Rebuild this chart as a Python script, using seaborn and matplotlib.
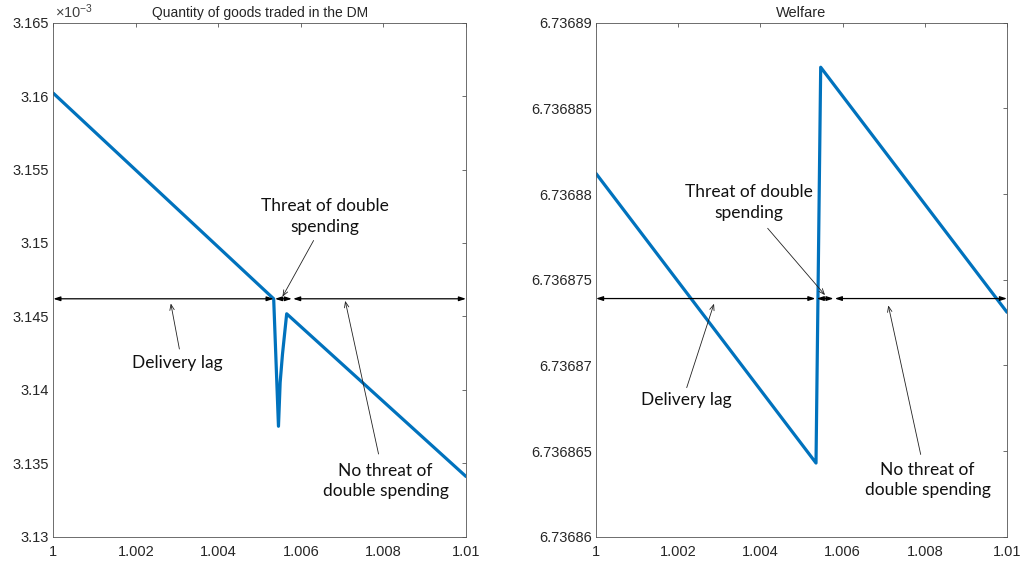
import numpy as np
import pandas as pd
import matplotlib
matplotlib.use("Agg")
import matplotlib.pyplot as plt
import seaborn as sns
from matplotlib.ticker import FuncFormatter

# left panel: quantity of goods traded in the DM (values in units of 1e-3)
q_x = [1.0, 1.00534, 1.005456, 1.005497, 1.005553, 1.005655, 1.01]
q_y = [3.1602, 3.1462, 3.13752, 3.14051, 3.14242, 3.14518, 3.1341]

# right panel: welfare
w_x = [1.0, 1.005353, 1.005467, 1.01]
w_y = [6.7368812, 6.7368643, 6.7368874, 6.7368731]

# double-arrow segments: delivery lag / threat of double spending / no threat
seg_edges = [(1.0, 1.00534), (1.00537, 1.00578), (1.00581, 1.01)]
q_arrow_y = 3.1462
w_arrow_y = 6.7368739

q_ticks_y = [3.13, 3.135, 3.14, 3.145, 3.15, 3.155, 3.16, 3.165]
w_ticks_y = [6.73686, 6.736865, 6.73687, 6.736875, 6.73688, 6.736885, 6.73689]
x_ticks = [1, 1.002, 1.004, 1.006, 1.008, 1.01]

sns.set_style("white")
plt.rcParams['font.family'] = ['Liberation Sans', 'DejaVu Sans']
plt.rcParams['mathtext.fontset'] = 'custom'
plt.rcParams['mathtext.rm'] = 'Liberation Sans'

blue = '#0072BD'
note_font = ['Lato', 'DejaVu Sans']

fig = plt.figure(figsize=(10.23, 5.65), dpi=100)
W, H = 1023, 565
ax1 = fig.add_axes([53.3 / W, 1 - 536.7 / H, (466 - 53.3) / W, 514 / H])
ax2 = fig.add_axes([596 / W, 1 - 536.7 / H, 411 / W, 514 / H])

df_q = pd.DataFrame({'x': q_x, 'y': q_y})
df_w = pd.DataFrame({'x': w_x, 'y': w_y})
sns.lineplot(data=df_q, x='x', y='y', ax=ax1, color=blue, linewidth=2.3,
             sort=False, estimator=None)
sns.lineplot(data=df_w, x='x', y='y', ax=ax2, color=blue, linewidth=2.3,
             sort=False, estimator=None)

fmt = FuncFormatter(lambda v, p: '{:.7g}'.format(v))
for ax, yt in [(ax1, q_ticks_y), (ax2, w_ticks_y)]:
    ax.set_xlim(1, 1.01)
    ax.set_ylim(yt[0], yt[-1])
    ax.set_xticks(x_ticks)
    ax.set_yticks(yt)
    ax.xaxis.set_major_formatter(fmt)
    ax.yaxis.set_major_formatter(fmt)
    ax.set_xlabel('')
    ax.set_ylabel('')
    ax.tick_params(axis='both', direction='in', length=3, width=0.6,
                   color='#555555', labelsize=10.5, labelcolor='#262626',
                   top=True, right=True)
    ax.tick_params(axis='x', pad=6)
    ax.tick_params(axis='y', pad=3)
    for s in ax.spines.values():
        s.set_color('#555555')
        s.set_linewidth(0.6)

ax1.set_title('Quantity of goods traded in the DM', fontsize=10, pad=4)
ax2.set_title('Welfare', fontsize=10.5, pad=4)
ax1.text(0.003, 1.004, r'$\times\mathregular{10^{-3}}$', transform=ax1.transAxes,
         fontsize=10.5, color='#404040', ha='left', va='bottom')


def draw_notes(ax, ay, notes):
    for x0, x1 in seg_edges:
        ax.annotate('', xy=(x1, ay), xytext=(x0, ay),
                    arrowprops=dict(arrowstyle='<|-|>,head_length=0.4,head_width=0.13',
                                    color='black', lw=0.9, shrinkA=0, shrinkB=0,
                                    mutation_scale=10))
    for text, tpos, start, end in notes:
        ax.text(tpos[0], tpos[1], text, ha='center', va='center',
                fontsize=12.5, family=note_font, linespacing=1.35, color='#111111')
        ax.annotate('', xy=end, xytext=start,
                    arrowprops=dict(arrowstyle='->,head_length=0.5,head_width=0.2',
                                    color='#222222', lw=0.6, shrinkA=0, shrinkB=0,
                                    mutation_scale=8))


draw_notes(ax1, q_arrow_y, [
    ('Threat of double\nspending', (1.006588, 3.15181), (1.006307, 3.15017), (1.005553, 3.14634)),
    ('Delivery lag', (1.003003, 3.14183), (1.003055, 3.14278), (1.002847, 3.14588)),
    ('No threat of\ndouble spending', (1.00805, 3.13379), (1.007881, 3.13563), (1.007073, 3.14606)),
])
draw_notes(ax2, w_arrow_y, [
    ('Threat of double\nspending', (1.003723, 6.7368795), (1.004177, 6.7368780), (1.005572, 6.7368741)),
    ('Delivery lag', (1.00219, 6.7368680), (1.002207, 6.7368687), (1.002871, 6.7368736)),
    ('No threat of\ndouble spending', (1.008066, 6.7368633), (1.0079, 6.7368648), (1.007112, 6.7368735)),
])

fig.savefig('out.png', dpi=100, facecolor='white')
